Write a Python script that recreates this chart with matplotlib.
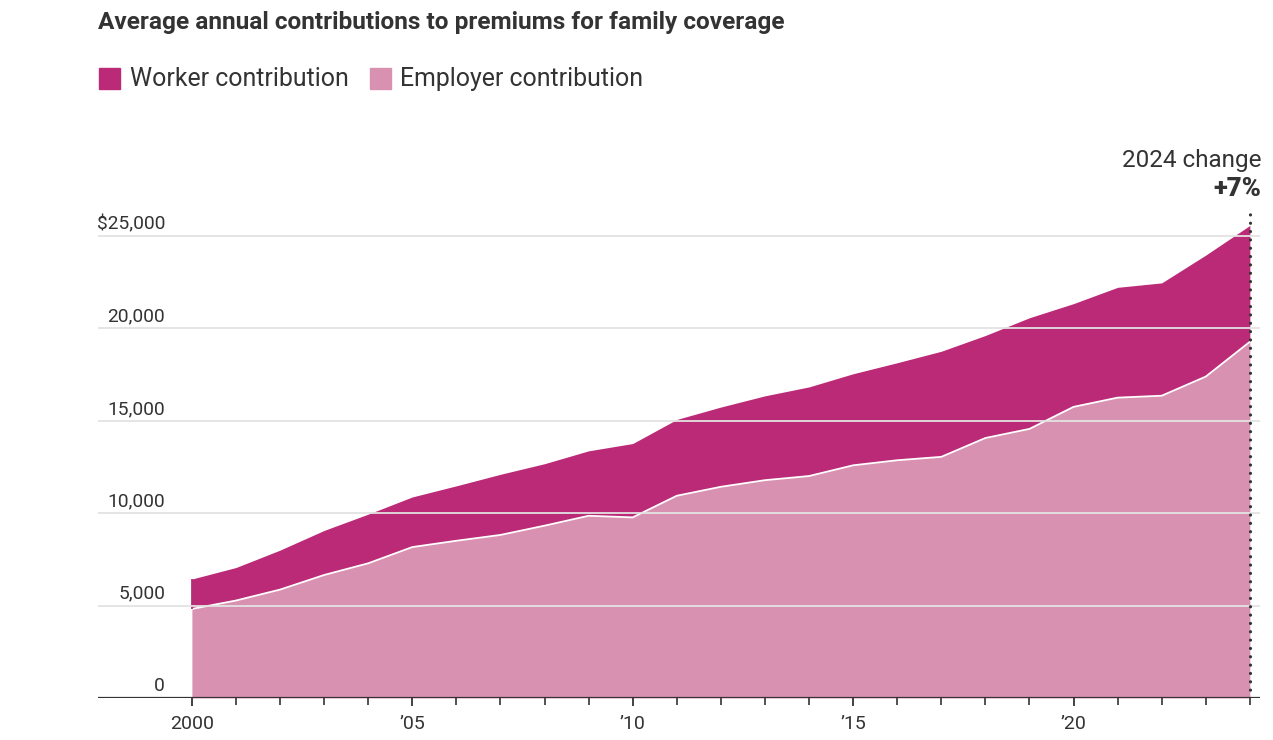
import matplotlib
matplotlib.use("Agg")
import matplotlib.pyplot as plt
import matplotlib.transforms as mtransforms
from matplotlib.patches import Rectangle

plt.rcParams['font.family'] = ['Roboto', 'DejaVu Sans']

years = list(range(2000, 2025))
employer = [4819, 5274, 5866, 6656, 7289, 8167, 8508, 8824, 9325, 9860, 9773,
            10944, 11429, 11786, 12011, 12591, 12865, 13049, 14069, 14561,
            15754, 16253, 16357, 17393, 19276]
worker = [1619, 1787, 2137, 2412, 2661, 2713, 2973, 3281, 3354, 3515, 3997,
          4129, 4316, 4565, 4823, 4955, 5277, 5714, 5547, 6015, 5588, 5969,
          6106, 6575, 6296]
total = [e + w for e, w in zip(employer, worker)]

y_ticks = [0, 5000, 10000, 15000, 20000, 25000]
y_labels = ["0", "5,000", "10,000", "15,000", "20,000", "$25,000"]
x_major = [2000, 2005, 2010, 2015, 2020]
x_labels = ["2000", "\u201905", "\u201910", "\u201915", "\u201920"]

title = "Average annual contributions to premiums for family coverage"
legend_labels = ["Worker contribution", "Employer contribution"]
change_label = "2024 change"
change_value = "+7%"

c_worker = "#bb2a76"
c_employer = "#d891b1"
c_text = "#333333"

W, H = 1273, 740
fig = plt.figure(figsize=(W / 100, H / 100), dpi=100)
ax = fig.add_axes([98 / W, 1 - 698 / H, 1162 / W, (698 - 150) / H])
ax.set_xlim(1997.87, 2024.23)
ax.set_ylim(0, 25000 * 548 / 462)

ax.fill_between(years, 0, employer, color=c_employer, lw=0, zorder=1)
ax.fill_between(years, employer, total, color=c_worker, lw=0, zorder=1)
ax.plot(years, employer, color="white", lw=1.3, zorder=2)
ax.vlines(years[0], employer[0], total[0], colors="#a8206a", lw=1.2, zorder=2)

for t in y_ticks[1:]:
    ax.axhline(t, color="#e3e3e3", lw=1.3, zorder=3)
ax.axhline(0, color=c_text, lw=1.6, zorder=5)

ax.vlines(2024, 0, 26245, colors=c_text, lw=2.3,
          linestyles=[(0, (0.01, 2.6))], capstyle='round', zorder=6)

trans = mtransforms.blended_transform_factory(ax.transAxes, ax.transData)
off = mtransforms.offset_copy(trans, fig=fig, x=0, y=2, units='points')
for t, lab in zip(y_ticks, y_labels):
    ax.text((165 - 98) / 1162, t, lab, transform=off, ha='right', va='bottom',
            fontsize=13.8, color=c_text, zorder=7)

for s in ax.spines.values():
    s.set_visible(False)
ax.set_yticks([])
ax.set_xticks(x_major)
ax.set_xticklabels(x_labels, fontsize=14, color=c_text)
ax.set_xticks(years, minor=True)
ax.tick_params(axis='x', which='major', length=6, width=1.3, color=c_text, pad=6)
ax.tick_params(axis='x', which='minor', length=5, width=1.2, color=c_text)

fig.text(98 / W, 1 - 23 / H, title, fontsize=17.6, fontweight='bold',
         color=c_text, ha='left', va='center')

fig.patches.append(Rectangle((99 / W, 1 - 89 / H), 21 / W, 21 / H,
                             transform=fig.transFigure, color=c_worker))
fig.text(130 / W, 1 - 79 / H, legend_labels[0], fontsize=17.9, color=c_text,
         ha='left', va='center')
fig.patches.append(Rectangle((370 / W, 1 - 89 / H), 21 / W, 21 / H,
                             transform=fig.transFigure, color=c_employer))
fig.text(400 / W, 1 - 79 / H, legend_labels[1], fontsize=17.9, color=c_text,
         ha='left', va='center')

fig.text(1261 / W, 1 - 161 / H, change_label, fontsize=17.5, color=c_text,
         ha='right', va='center')
fig.text(1261 / W, 1 - 189 / H, change_value, fontsize=18.5, fontweight='black',
         color=c_text, ha='right', va='center')

fig.savefig("out.png", dpi=100)
